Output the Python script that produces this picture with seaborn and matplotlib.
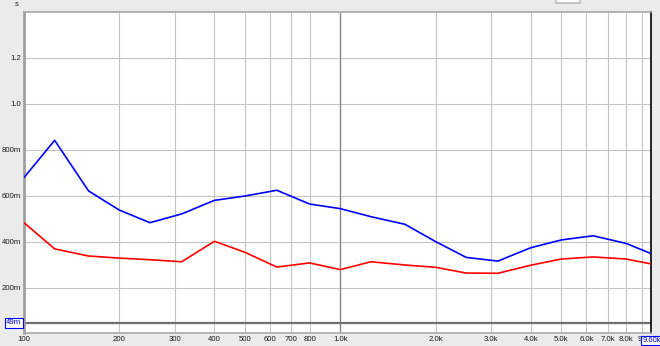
import matplotlib
matplotlib.use("Agg")
import matplotlib.pyplot as plt
import seaborn as sns
import pandas as pd
import numpy as np

freqs = [100, 125, 160, 200, 250, 315, 400, 500, 630, 800, 1000, 1250, 1600,
         2000, 2500, 3150, 4000, 5000, 6300, 8000, 10000]
blue_vals = [0.680, 0.842, 0.622, 0.539, 0.484, 0.522, 0.581, 0.600, 0.625, 0.565,
             0.545, 0.510, 0.477, 0.402, 0.333, 0.317, 0.375, 0.409, 0.427, 0.394, 0.340]
red_vals = [0.484, 0.370, 0.339, 0.330, 0.323, 0.314, 0.403, 0.355, 0.291, 0.309,
            0.280, 0.314, 0.300, 0.290, 0.265, 0.264, 0.299, 0.326, 0.335, 0.326, 0.300]
y_ticks = [0.2, 0.4, 0.6, 0.8, 1.0, 1.2]
y_labels = ["200m", "400m", "600m", "800m", "1.0", "1.2"]
x_ticks = [100, 200, 300, 400, 500, 600, 700, 800, 1000, 2000, 3000, 4000,
           5000, 6000, 7000, 8000, 9000]
x_labels = ["100", "200", "300", "400", "500", "600", "700", "800", "1.0k", "2.0k",
            "3.0k", "4.0k", "5.0k", "6.0k", "7.0k", "8.0k", "9"]

df = pd.DataFrame({
    "freq": freqs * 2,
    "value": blue_vals + red_vals,
    "series": ["blue"] * len(freqs) + ["red"] * len(freqs),
})

sns.set_theme(style="white")
plt.rcParams["font.family"] = ["Liberation Sans", "DejaVu Sans"]

fig = plt.figure(figsize=(6.6, 3.46), dpi=100, facecolor="#ebebeb")
ax = fig.add_axes([24 / 660, 1 - 333 / 346, (651 - 24) / 660, (333 - 12) / 346])
ax.set_facecolor("white")

sns.lineplot(data=df, x="freq", y="value", hue="series",
             palette={"blue": "#0000ff", "red": "#ff0000"},
             linewidth=1.2, legend=False, ax=ax, zorder=3)

ax.set_xscale("log")
ax.set_xlim(100, 9600)
ax.set_ylim(0.0043, 1.40)

# grid
for yt in y_ticks:
    ax.axhline(yt, color="#c4c4c4", lw=0.8, zorder=1)
for xt in x_ticks[1:]:
    ax.axvline(xt, color="#888888" if xt == 1000 else "#c4c4c4",
               lw=1.0 if xt == 1000 else 0.8, zorder=1)
ax.axhline(0.049, color="#707070", lw=1.6, zorder=2)

ax.set_xticks(x_ticks)
ax.set_xticklabels(x_labels)
ax.set_yticks(y_ticks)
ax.set_yticklabels(y_labels)
ax.xaxis.set_minor_locator(matplotlib.ticker.NullLocator())
ax.tick_params(axis="both", length=0, labelsize=5.6, colors="#1a1a1a")
ax.tick_params(axis="x", pad=2.0)
ax.tick_params(axis="y", pad=2)
ax.get_xticklabels()[-1].set_ha("right")
ax.set_xlabel("")
ax.set_ylabel("")

for side in ["top", "bottom"]:
    ax.spines[side].set_color("#a8a8a8")
    ax.spines[side].set_linewidth(1.2)
ax.spines["left"].set_color("#a0a0a0")
ax.spines["left"].set_linewidth(2.0)
ax.spines["right"].set_color("#000000")
ax.spines["right"].set_linewidth(1.2)

# unit label
fig.text(17 / 660, 1 - 5 / 346, "s", fontsize=5.6, ha="center", va="center", color="#1a1a1a")

# boxed labels
ax.text(-0.004, 0.049, "49m", transform=ax.get_yaxis_transform(), ha="right", va="center",
        fontsize=5.6, color="#0000cc",
        bbox=dict(boxstyle="square,pad=0.2", fc="white", ec="#0000ff", lw=0.8))
ax.text(9640, -0.012, "9.60k", transform=ax.get_xaxis_transform(), ha="center", va="top",
        fontsize=5.4, color="#0000cc",
        bbox=dict(boxstyle="square,pad=0.15", fc="white", ec="#0000ff", lw=0.8))

# small widget at the top
fig.patches.append(matplotlib.patches.FancyBboxPatch(
    (556 / 660, 1 - 3 / 346), 24 / 660, 6 / 346, boxstyle="round,pad=0",
    transform=fig.transFigure, fc="white", ec="#a0a0a0", lw=0.8))

fig.savefig("out.png", dpi=100, facecolor=fig.get_facecolor())
